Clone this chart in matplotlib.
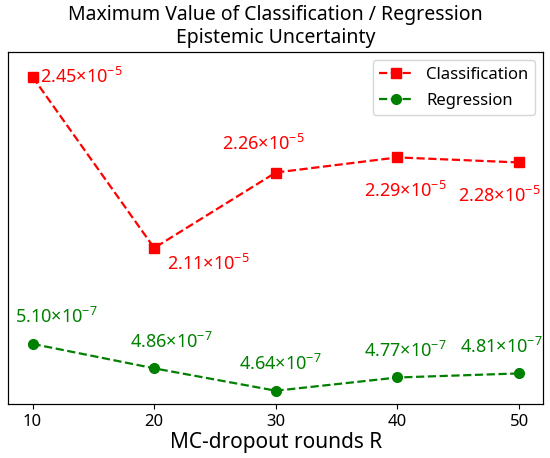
import matplotlib
matplotlib.use("Agg")
import matplotlib.pyplot as plt

plt.rcParams['font.family'] = ['Noto Sans', 'DejaVu Sans']
plt.rcParams['mathtext.default'] = 'regular'

rounds = [10, 20, 30, 40, 50]
cls_vals = [2.45e-5, 2.11e-5, 2.26e-5, 2.29e-5, 2.28e-5]
reg_vals = [5.10e-7, 4.86e-7, 4.64e-7, 4.77e-7, 4.81e-7]
cls_labels = ['2.45', '2.11', '2.26', '2.29', '2.28']
reg_labels = ['5.10', '4.86', '4.64', '4.77', '4.81']

fig, ax = plt.subplots(figsize=(5.5, 4.58), dpi=100)
ax2 = ax.twinx()

l1, = ax.plot(rounds, cls_vals, 'r--s', markersize=7, linewidth=1.6, label='Classification')
l2, = ax2.plot(rounds, reg_vals, '--o', color='green', markersize=7, linewidth=1.6, label='Regression')

ax.set_ylim(1.8e-5, 2.5e-5)
ax2.set_ylim(4.51e-7, 7.97e-7)

# label offsets in points (dx, dy, ha, va)
cls_off = [(5, 0, 'left', 'center'), (9, -4, 'left', 'top'), (-9, 13, 'center', 'bottom'),
           (6, -17, 'center', 'top'), (-14, -17, 'center', 'top')]
reg_dx = [17, 12, 3, 6, -13]
for x, y, t, (dx, dy, ha, va) in zip(rounds, cls_vals, cls_labels, cls_off):
    ax.annotate(r'$%s{\times}10^{-5}$' % t, (x, y), xytext=(dx, dy), textcoords='offset points',
                ha=ha, va=va, color='red', fontsize=13)
for x, y, t, dx in zip(rounds, reg_vals, reg_labels, reg_dx):
    ax2.annotate(r'$%s{\times}10^{-7}$' % t, (x, y), xytext=(dx, 12), textcoords='offset points',
                 ha='center', va='bottom', color='green', fontsize=13)

ax.set_yticks([])
ax2.set_yticks([])
ax.set_xticks(rounds)
ax.tick_params(axis='x', labelsize=12)
ax.set_xlabel('MC-dropout rounds R', fontsize=15, labelpad=2)
ax.set_title('Maximum Value of Classification / Regression\nEpistemic Uncertainty', fontsize=14)
ax.legend(handles=[l1, l2], loc='upper right', fontsize=12, labelspacing=0.6)

fig.subplots_adjust(left=0.015, right=0.988, top=0.887, bottom=0.118)
fig.savefig('out.png')
